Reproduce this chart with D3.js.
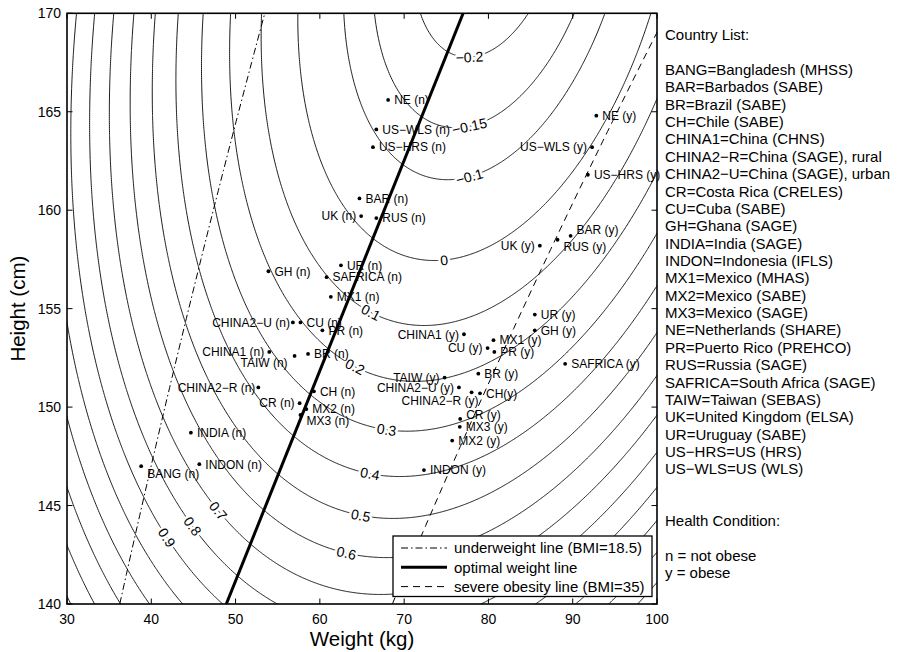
<!DOCTYPE html>
<html>
<head>
<meta charset="utf-8">
<script src="https://cdn.jsdelivr.net/npm/d3@7"></script>
<style>
  body { margin: 0; background: #fff; }
  text { font-family: "Liberation Sans", Arial, Helvetica, sans-serif; fill: #000; }
</style>
</head>
<body>
<svg id="chart" width="898" height="652"></svg>
<script>
// ---------- axes ----------
const weightTicks = [30, 40, 50, 60, 70, 80, 90, 100];
const heightTicks = [140, 145, 150, 155, 160, 165, 170];

// ---------- mortality surface (fitted quadratic) ----------
// f(w,h) = curv * (w - (w0 + slope*(h-140)))^2 + c0 + c1*(h-155) + c2*(h-155)^2
const surfaceCurv = 0.000503;
const surfaceCentre = [67, 0.3767];            // w0, slope
const surfaceHeightTerm = [0.0708, -0.0315, 0.000803]; // c0, c1, c2

const contourLevels = [-0.2, -0.15, -0.1, 0, 0.1, 0.2, 0.3, 0.4, 0.5, 0.6, 0.7, 0.8, 0.9, 1.0, 1.1, 1.2, 1.3, 1.4];

// inline contour labels: level and the spot on the curve where it sits
const contourLabelSpots = [
  { level: -0.2,  w: 77.8, h: 167.7 },
  { level: -0.15, w: 77.8, h: 164.2 },
  { level: -0.1,  w: 77.6, h: 161.9 },
  { level: 0,     w: 74.8, h: 157.2 },
  { level: 0.1,   w: 65.9, h: 154.7 },
  { level: 0.2,   w: 64.0, h: 151.9 },
  { level: 0.3,   w: 67.8, h: 148.6 },
  { level: 0.4,   w: 65.9, h: 146.4 },
  { level: 0.5,   w: 64.8, h: 144.3 },
  { level: 0.6,   w: 63.0, h: 142.4 },
  { level: 0.7,   w: 47.9, h: 144.7 },
  { level: 0.8,   w: 44.8, h: 143.9 },
  { level: 0.9,   w: 41.9, h: 143.4 }
];

// ---------- reference lines ----------
const underweightBMI = 18.5;
const severeObesityBMI = 35;
const optimalWeightLine = [ { h: 140, w: 48.9 }, { h: 170, w: 77.0 } ];

// ---------- countries ----------
const notObeseLabels = ["NE (n)", "US−WLS (n)", "US−HRS (n)", "BAR (n)", "UK (n)", "RUS (n)", "UR (n)",
  "SAFRICA (n)", "MX1 (n)", "GH (n)", "CHINA2−U (n)", "CU (n)", "PR (n)", "CHINA1 (n)", "TAIW (n)",
  "BR (n)", "CHINA2−R (n)", "CH (n)", "CR (n)", "MX2 (n)", "MX3 (n)", "INDIA (n)", "INDON (n)", "BANG (n)"];
const notObeseWeight = [68.1, 66.7, 66.3, 64.7, 64.9, 66.7, 62.5, 60.8, 61.3, 53.9, 56.8, 57.7, 60.3, 54.0, 57.0,
  58.6, 52.7, 59.3, 57.6, 58.4, 57.7, 44.7, 45.7, 38.8];
const notObeseHeight = [165.6, 164.1, 163.2, 160.6, 159.7, 159.6, 157.2, 156.6, 155.6, 156.9, 154.3, 154.3, 153.9,
  152.8, 152.6, 152.7, 151.0, 150.8, 150.2, 149.9, 149.6, 148.7, 147.1, 147.0];

const obeseLabels = ["NE (y)", "US−WLS (y)", "US−HRS (y)", "BAR (y)", "RUS (y)", "UK (y)", "UR (y)", "GH (y)",
  "CHINA1 (y)", "MX1 (y)", "CU (y)", "PR (y)", "SAFRICA (y)", "TAIW (y)", "BR (y)", "CHINA2−U (y)",
  "CHINA2−R (y)", "CH(y)", "CR (y)", "MX3 (y)", "MX2 (y)", "INDON (y)"];
const obeseWeight = [92.8, 92.3, 91.8, 89.75, 88.2, 86.1, 85.5, 85.5, 77.1, 80.6, 79.9, 80.7, 89.1, 74.8, 78.8,
  76.5, 78.0, 79.0, 76.65, 76.6, 75.7, 72.35];
const obeseHeight = [164.8, 163.2, 161.8, 158.7, 158.5, 158.2, 154.7, 153.9, 153.7, 153.4, 153.0, 152.8, 152.2,
  151.5, 151.7, 151.0, 150.75, 150.7, 149.4, 149.0, 148.3, 146.8];

// labels written to the left of their dot, and labels nudged off their dot
const leftSideLabels = ["UK (n)", "CHINA2−U (n)", "CHINA1 (n)", "TAIW (n)", "CHINA2−R (n)", "CR (n)",
  "US−WLS (y)", "UK (y)", "CHINA1 (y)", "CU (y)", "TAIW (y)", "CHINA2−U (y)", "CHINA2−R (y)"];
const labelNudges = {
  "TAIW (n)": [-7, 6.5], "MX3 (n)": [6, 5.5], "BANG (n)": [6, 7.3], "CHINA2−U (n)": [-3, 0],
  "CHINA2−R (n)": [-3, 0], "BAR (y)": [6, -6], "RUS (y)": [6, 7], "CHINA2−R (y)": [7, 8.5], "CR (y)": [6, -4]
};

// ---------- side notes ----------
const countryList = ["BANG=Bangladesh (MHSS)", "BAR=Barbados (SABE)", "BR=Brazil (SABE)", "CH=Chile (SABE)",
  "CHINA1=China (CHNS)", "CHINA2−R=China (SAGE), rural", "CHINA2−U=China (SAGE), urban", "CR=Costa Rica (CRELES)",
  "CU=Cuba (SABE)", "GH=Ghana (SAGE)", "INDIA=India (SAGE)", "INDON=Indonesia (IFLS)", "MX1=Mexico (MHAS)",
  "MX2=Mexico (SABE)", "MX3=Mexico (SAGE)", "NE=Netherlands (SHARE)", "PR=Puerto Rico (PREHCO)", "RUS=Russia (SAGE)",
  "SAFRICA=South Africa (SAGE)", "TAIW=Taiwan (SEBAS)", "UK=United Kingdom (ELSA)", "UR=Uruguay (SABE)",
  "US−HRS=US (HRS)", "US−WLS=US (WLS)"];
const healthNotes = ["n = not obese", "y = obese"];
const legendEntries = ["underweight line (BMI=18.5)", "optimal weight line", "severe obesity line (BMI=35)"];

// ================= drawing =================
const svg = d3.select("#chart");
const box = { left: 67, right: 657, top: 13.3, bottom: 604 };
const x = d3.scaleLinear().domain([30, 100]).range([box.left, box.right]);
const y = d3.scaleLinear().domain([140, 170]).range([box.bottom, box.top]);

svg.append("defs").append("clipPath").attr("id", "plotClip")
  .append("rect").attr("x", box.left).attr("y", box.top)
  .attr("width", box.right - box.left).attr("height", box.bottom - box.top);

const surface = (w, h) => {
  const wc = surfaceCentre[0] + surfaceCentre[1] * (h - 140);
  const t = h - 155;
  return surfaceCurv * (w - wc) ** 2 + surfaceHeightTerm[0] + surfaceHeightTerm[1] * t + surfaceHeightTerm[2] * t * t;
};

// sample the surface on a grid a little wider than the axes so ring edges fall outside the clip
const g0w = 25, g0h = 135, gStep = 0.1;
const nx = Math.round((105 - g0w) / gStep) + 1;
const ny = Math.round((175 - g0h) / gStep) + 1;
const grid = new Float64Array(nx * ny);
for (let j = 0; j < ny; j++) {
  const h = g0h + j * gStep;
  for (let i = 0; i < nx; i++) grid[j * nx + i] = surface(g0w + i * gStep, h);
}
const contours = d3.contours().size([nx, ny]).thresholds(contourLevels)(grid);
const toPx = (gx, gy) => [x(g0w + gx * gStep), y(g0h + gy * gStep)];
const gridPath = d3.geoPath(d3.geoTransform({
  point(gx, gy) { const p = toPx(gx, gy); this.stream.point(p[0], p[1]); }
}));

const plotLayer = svg.append("g").attr("clip-path", "url(#plotClip)");
plotLayer.append("g").selectAll("path").data(contours).join("path")
  .attr("d", gridPath).attr("fill", "none").attr("stroke", "#000").attr("stroke-width", 0.9);

// BMI reference curves: weight = BMI * (height in m)^2
const bmiCurve = bmi => d3.range(140, 170.01, 0.5).map(h => ({ w: bmi * (h / 100) ** 2, h }));
const line = d3.line().x(d => x(d.w)).y(d => y(d.h));
plotLayer.append("path").attr("d", line(bmiCurve(underweightBMI)))
  .attr("fill", "none").attr("stroke", "#000").attr("stroke-width", 1)
  .attr("stroke-dasharray", "7,3,1.5,3");
plotLayer.append("path").attr("d", line(bmiCurve(severeObesityBMI)))
  .attr("fill", "none").attr("stroke", "#000").attr("stroke-width", 1)
  .attr("stroke-dasharray", "7,5");
plotLayer.append("path").attr("d", line(optimalWeightLine))
  .attr("fill", "none").attr("stroke", "#000").attr("stroke-width", 3);

// inline contour labels, aligned with the curve
const fmtLevel = v => String(v).replace("-", "−");
const labelLayer = svg.append("g");
contourLabelSpots.forEach(spot => {
  const c = contours.find(k => Math.abs(k.value - spot.level) < 1e-9);
  const tx = x(spot.w), ty = y(spot.h);
  let best = null;
  c.coordinates.forEach(poly => poly.forEach(ring => {
    const pts = ring.map(p => toPx(p[0], p[1]));
    pts.forEach((p, i) => {
      const d = (p[0] - tx) ** 2 + (p[1] - ty) ** 2;
      if (!best || d < best.d) best = { d, pts, i };
    });
  }));
  const { pts, i } = best, n = pts.length;
  const a = pts[(i - 8 + n) % n], b = pts[(i + 8) % n];
  let ang = Math.atan2(b[1] - a[1], b[0] - a[0]) * 180 / Math.PI;
  if (ang > 90) ang -= 180;
  if (ang < -90) ang += 180;
  labelLayer.append("text")
    .attr("transform", `translate(${pts[i][0]},${pts[i][1]}) rotate(${ang})`)
    .attr("text-anchor", "middle").attr("dy", "0.36em")
    .attr("font-size", 14)
    .attr("stroke", "#fff").attr("stroke-width", 5).attr("paint-order", "stroke")
    .attr("stroke-linejoin", "round")
    .text(fmtLevel(spot.level));
});

// country points
const countries = [];
notObeseLabels.forEach((lab, k) => countries.push({ lab, w: notObeseWeight[k], h: notObeseHeight[k] }));
obeseLabels.forEach((lab, k) => countries.push({ lab, w: obeseWeight[k], h: obeseHeight[k] }));

const pointLayer = svg.append("g");
pointLayer.selectAll("circle").data(countries).join("circle")
  .attr("cx", d => x(d.w)).attr("cy", d => y(d.h)).attr("r", 1.9).attr("fill", "#000");
pointLayer.selectAll("text").data(countries).join("text")
  .attr("font-size", 12)
  .attr("text-anchor", d => leftSideLabels.includes(d.lab) ? "end" : "start")
  .attr("x", d => {
    const nudge = labelNudges[d.lab];
    const dx = nudge ? nudge[0] : (leftSideLabels.includes(d.lab) ? -5 : 6);
    return x(d.w) + dx;
  })
  .attr("y", d => {
    const nudge = labelNudges[d.lab];
    return y(d.h) + (nudge ? nudge[1] : 0) + 4.3;
  })
  .text(d => d.lab);

// legend
const lg = svg.append("g");
lg.append("rect").attr("x", 393).attr("y", 536).attr("width", 259).attr("height", 60.5)
  .attr("fill", "#fff").attr("stroke", "#000").attr("stroke-width", 1.3);
const legendStyles = [
  { dash: "7,3,1.5,3", width: 1 },
  { dash: null, width: 3 },
  { dash: "7,5", width: 1 }
];
legendEntries.forEach((txt, k) => {
  const cy = 548 + k * 19.3;
  lg.append("line").attr("x1", 401).attr("x2", 447).attr("y1", cy).attr("y2", cy)
    .attr("stroke", "#000").attr("stroke-width", legendStyles[k].width)
    .attr("stroke-dasharray", legendStyles[k].dash);
  lg.append("text").attr("x", 454).attr("y", cy + 5.3).attr("font-size", 15).text(txt);
});

// axes box with inward ticks on all four sides
const ax = svg.append("g");
const tickLen = 5.5;
weightTicks.forEach(v => {
  ax.append("line").attr("x1", x(v)).attr("x2", x(v)).attr("y1", box.bottom).attr("y2", box.bottom - tickLen)
    .attr("stroke", "#000").attr("stroke-width", 1);
  ax.append("line").attr("x1", x(v)).attr("x2", x(v)).attr("y1", box.top).attr("y2", box.top + tickLen)
    .attr("stroke", "#000").attr("stroke-width", 1);
  ax.append("text").attr("x", x(v)).attr("y", 623.5).attr("text-anchor", "middle")
    .attr("font-size", 14).text(v);
});
heightTicks.forEach(v => {
  ax.append("line").attr("x1", box.left).attr("x2", box.left + tickLen).attr("y1", y(v)).attr("y2", y(v))
    .attr("stroke", "#000").attr("stroke-width", 1);
  ax.append("line").attr("x1", box.right).attr("x2", box.right - tickLen).attr("y1", y(v)).attr("y2", y(v))
    .attr("stroke", "#000").attr("stroke-width", 1);
  ax.append("text").attr("x", 61).attr("y", y(v) + 5).attr("text-anchor", "end")
    .attr("font-size", 14).text(v);
});
ax.append("rect").attr("x", box.left).attr("y", box.top)
  .attr("width", box.right - box.left).attr("height", box.bottom - box.top)
  .attr("fill", "none").attr("stroke", "#000").attr("stroke-width", 1.6);

ax.append("text").attr("x", (box.left + box.right) / 2).attr("y", 646).attr("text-anchor", "middle")
  .attr("font-size", 20.5).text("Weight (kg)");
ax.append("text").attr("transform", `translate(25,${(box.top + box.bottom) / 2}) rotate(-90)`)
  .attr("text-anchor", "middle").attr("font-size", 20.5).text("Height (cm)");

// side notes
const notes = svg.append("g").attr("font-size", 15);
const lineGap = 17.36, firstLine = 35;
const noteLines = ["Country List:", ""].concat(countryList, ["", "", "Health Condition:", ""], healthNotes);
noteLines.forEach((t, k) => {
  if (!t) return;
  notes.append("text").attr("x", 665).attr("y", firstLine + k * lineGap + 5.3).attr("font-size", 15).text(t);
});
</script>
</body>
</html>
